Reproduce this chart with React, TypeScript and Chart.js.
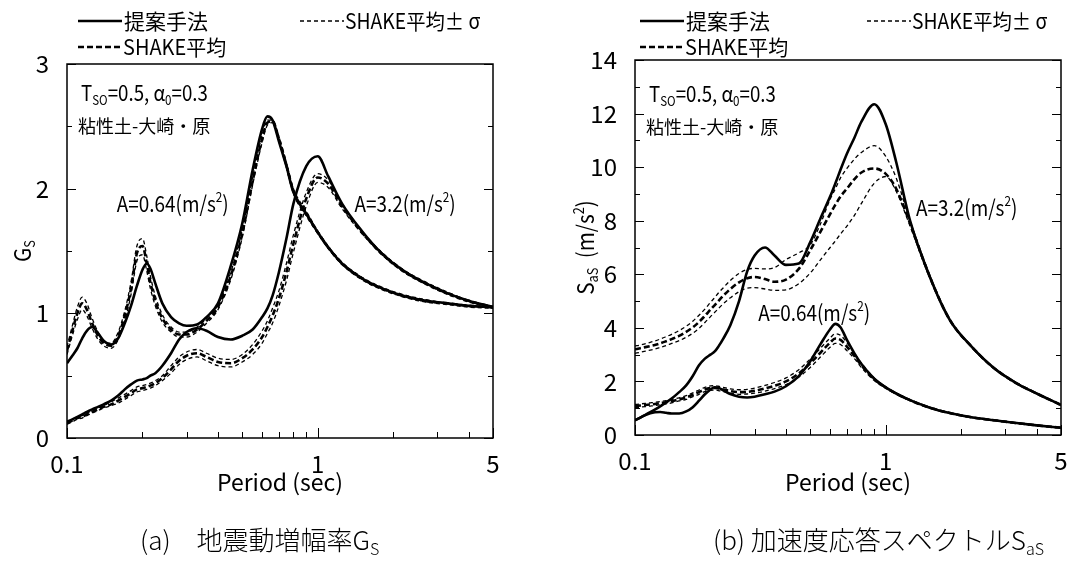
import { useEffect, useRef } from "react";
import { Chart, registerables } from "chart.js";

Chart.register(...registerables);

// ---------------- data ----------------
const periods = [0.1, 0.105, 0.11, 0.115, 0.12, 0.126, 0.133, 0.14, 0.15, 0.16, 0.17, 0.18, 0.19, 0.2, 0.208, 0.215, 0.225, 0.24, 0.26, 0.28, 0.3, 0.33, 0.36, 0.4, 0.45, 0.5, 0.55, 0.6, 0.63, 0.66, 0.7, 0.75, 0.8, 0.9, 1.0, 1.1, 1.25, 1.5, 1.8, 2.2, 2.7, 3.3, 4, 5];

const xTickLabels = [0.1, 1, 5];
const xMinorTicks = [0.2, 0.3, 0.4, 0.5, 0.6, 0.7, 0.8, 0.9, 2, 3, 4];

// (a) G_S
const gsProp064 = [0.60, 0.66, 0.72, 0.80, 0.86, 0.89, 0.84, 0.78, 0.75, 0.80, 0.92, 1.06, 1.22, 1.35, 1.40, 1.36, 1.24, 1.08, 0.97, 0.92, 0.90, 0.91, 0.97, 1.08, 1.38, 1.72, 2.15, 2.48, 2.58, 2.55, 2.38, 2.18, 1.97, 1.80, 1.65, 1.53, 1.40, 1.28, 1.20, 1.14, 1.10, 1.08, 1.06, 1.05];
const gsShake064 = [0.70, 0.86, 1.00, 1.08, 1.03, 0.92, 0.82, 0.76, 0.74, 0.82, 0.98, 1.20, 1.48, 1.54, 1.40, 1.25, 1.10, 0.96, 0.87, 0.83, 0.83, 0.87, 0.94, 1.05, 1.30, 1.64, 2.06, 2.40, 2.53, 2.54, 2.40, 2.19, 1.98, 1.80, 1.65, 1.53, 1.40, 1.28, 1.20, 1.14, 1.10, 1.08, 1.06, 1.05];
const gsShake064Hi = [0.73, 0.90, 1.05, 1.13, 1.08, 0.96, 0.85, 0.78, 0.76, 0.85, 1.02, 1.25, 1.54, 1.60, 1.46, 1.30, 1.14, 0.99, 0.89, 0.85, 0.85, 0.89, 0.96, 1.07, 1.33, 1.67, 2.09, 2.43, 2.55, 2.55, 2.42, 2.21, 2.00, 1.82, 1.66, 1.54, 1.41, 1.29, 1.21, 1.15, 1.11, 1.08, 1.06, 1.05];
const gsShake064Lo = [0.67, 0.82, 0.95, 1.03, 0.98, 0.88, 0.79, 0.74, 0.72, 0.79, 0.94, 1.15, 1.42, 1.47, 1.34, 1.20, 1.06, 0.93, 0.85, 0.81, 0.81, 0.85, 0.92, 1.03, 1.27, 1.61, 2.03, 2.37, 2.51, 2.53, 2.38, 2.17, 1.96, 1.78, 1.64, 1.52, 1.39, 1.27, 1.19, 1.13, 1.09, 1.07, 1.05, 1.04];
const gsProp32 = [0.13, 0.15, 0.17, 0.19, 0.21, 0.23, 0.25, 0.27, 0.30, 0.34, 0.39, 0.43, 0.46, 0.47, 0.48, 0.50, 0.52, 0.58, 0.68, 0.79, 0.85, 0.88, 0.86, 0.81, 0.79, 0.82, 0.87, 0.97, 1.04, 1.14, 1.33, 1.60, 1.88, 2.18, 2.26, 2.10, 1.88, 1.66, 1.48, 1.34, 1.24, 1.16, 1.10, 1.05];
const gsShake32 = [0.12, 0.14, 0.16, 0.17, 0.19, 0.21, 0.23, 0.25, 0.27, 0.30, 0.33, 0.36, 0.39, 0.40, 0.41, 0.42, 0.44, 0.48, 0.55, 0.62, 0.66, 0.68, 0.65, 0.61, 0.60, 0.64, 0.71, 0.81, 0.89, 0.98, 1.12, 1.33, 1.56, 1.92, 2.09, 2.04, 1.86, 1.65, 1.48, 1.34, 1.24, 1.16, 1.10, 1.05];
const gsShake32Hi = [0.13, 0.15, 0.17, 0.18, 0.20, 0.22, 0.24, 0.26, 0.29, 0.32, 0.35, 0.38, 0.41, 0.42, 0.43, 0.44, 0.46, 0.50, 0.58, 0.65, 0.69, 0.71, 0.68, 0.64, 0.63, 0.67, 0.75, 0.86, 0.94, 1.04, 1.18, 1.40, 1.63, 1.97, 2.12, 2.07, 1.88, 1.66, 1.49, 1.35, 1.25, 1.17, 1.10, 1.05];
const gsShake32Lo = [0.11, 0.13, 0.15, 0.16, 0.18, 0.20, 0.22, 0.24, 0.26, 0.28, 0.31, 0.34, 0.37, 0.38, 0.39, 0.40, 0.42, 0.46, 0.52, 0.59, 0.63, 0.65, 0.62, 0.58, 0.57, 0.61, 0.67, 0.76, 0.84, 0.92, 1.06, 1.26, 1.49, 1.86, 2.05, 2.01, 1.84, 1.64, 1.47, 1.33, 1.23, 1.15, 1.09, 1.04];

// (b) S_aS
const saProp064 = [0.55, 0.65, 0.74, 0.81, 0.85, 0.86, 0.83, 0.80, 0.80, 0.88, 1.04, 1.28, 1.52, 1.70, 1.78, 1.76, 1.67, 1.53, 1.43, 1.40, 1.43, 1.52, 1.62, 1.82, 2.20, 2.75, 3.40, 3.95, 4.15, 4.02, 3.55, 3.05, 2.65, 2.10, 1.78, 1.55, 1.30, 1.02, 0.82, 0.66, 0.55, 0.45, 0.36, 0.27];
const saShake064 = [1.08, 1.10, 1.12, 1.14, 1.16, 1.19, 1.22, 1.26, 1.33, 1.40, 1.50, 1.60, 1.70, 1.75, 1.76, 1.74, 1.70, 1.64, 1.60, 1.61, 1.65, 1.74, 1.84, 2.00, 2.30, 2.68, 3.08, 3.45, 3.60, 3.55, 3.30, 2.95, 2.60, 2.08, 1.77, 1.55, 1.30, 1.02, 0.82, 0.66, 0.55, 0.45, 0.36, 0.27];
const saShake064Hi = [1.14, 1.16, 1.18, 1.20, 1.22, 1.25, 1.28, 1.32, 1.39, 1.47, 1.57, 1.68, 1.78, 1.83, 1.84, 1.82, 1.78, 1.72, 1.69, 1.70, 1.75, 1.85, 1.96, 2.13, 2.44, 2.84, 3.25, 3.62, 3.78, 3.72, 3.45, 3.05, 2.68, 2.13, 1.80, 1.57, 1.32, 1.04, 0.83, 0.67, 0.56, 0.46, 0.37, 0.28];
const saShake064Lo = [1.02, 1.04, 1.06, 1.08, 1.10, 1.13, 1.16, 1.20, 1.27, 1.33, 1.43, 1.52, 1.62, 1.67, 1.68, 1.66, 1.62, 1.56, 1.52, 1.53, 1.56, 1.64, 1.73, 1.88, 2.16, 2.52, 2.92, 3.28, 3.42, 3.38, 3.15, 2.85, 2.52, 2.03, 1.74, 1.53, 1.28, 1.00, 0.81, 0.65, 0.54, 0.44, 0.35, 0.26];
const saProp32 = [0.55, 0.65, 0.75, 0.85, 0.95, 1.07, 1.22, 1.36, 1.60, 1.85, 2.20, 2.60, 2.85, 3.00, 3.12, 3.30, 3.60, 4.10, 5.00, 6.10, 6.70, 7.00, 6.70, 6.35, 6.40, 7.20, 8.10, 8.90, 9.40, 9.90, 10.50, 11.10, 11.70, 12.35, 11.60, 10.20, 8.00, 5.90, 4.30, 3.30, 2.50, 1.95, 1.55, 1.12];
const saShake32 = [3.20, 3.24, 3.28, 3.32, 3.36, 3.42, 3.50, 3.58, 3.70, 3.85, 4.02, 4.22, 4.45, 4.68, 4.85, 5.00, 5.20, 5.45, 5.70, 5.85, 5.90, 5.82, 5.72, 5.80, 6.20, 6.90, 7.60, 8.25, 8.60, 8.90, 9.20, 9.55, 9.80, 9.95, 9.75, 9.20, 7.90, 5.90, 4.30, 3.30, 2.50, 1.95, 1.55, 1.12];
const saShake32Hi = [3.32, 3.36, 3.41, 3.46, 3.51, 3.58, 3.67, 3.76, 3.90, 4.06, 4.25, 4.47, 4.70, 4.95, 5.13, 5.30, 5.50, 5.77, 6.03, 6.18, 6.22, 6.20, 6.25, 6.55, 6.80, 7.10, 7.90, 8.80, 9.20, 9.60, 9.95, 10.30, 10.55, 10.80, 10.40, 9.60, 8.00, 5.95, 4.33, 3.32, 2.52, 1.97, 1.56, 1.13];
const saShake32Lo = [3.05, 3.09, 3.13, 3.17, 3.21, 3.27, 3.34, 3.42, 3.52, 3.65, 3.80, 3.98, 4.20, 4.42, 4.58, 4.72, 4.90, 5.12, 5.35, 5.48, 5.50, 5.45, 5.40, 5.42, 5.65, 6.05, 6.55, 7.00, 7.25, 7.50, 7.80, 8.20, 8.65, 9.40, 9.65, 9.10, 7.80, 5.85, 4.28, 3.28, 2.48, 1.93, 1.54, 1.11];

// ---------------- styles ----------------
const W = 1091;
const H = 564;
const FONT = "'Noto Sans CJK JP', 'DejaVu Sans', sans-serif";
const FONT_JP = "'Noto Sans CJK JP', sans-serif";

type Kind = "prop" | "mean" | "sigma";
const STYLE: Record<Kind, { w: number; dash: number[] }> = {
  prop: { w: 2.6, dash: [] },
  mean: { w: 2.6, dash: [6, 3] },
  sigma: { w: 1.3, dash: [4, 3] },
};

type Seg = { t: string; s?: "sub" | "sup" };

function drawRich(
  ctx: CanvasRenderingContext2D,
  segs: Seg[],
  x: number,
  y: number,
  size: number,
  family: string,
  align: "left" | "center" = "left",
  weight = "normal",
  sx = 1
) {
  ctx.save();
  ctx.fillStyle = "#000";
  ctx.textBaseline = "middle";
  ctx.textAlign = "left";
  const widths = segs.map((sg) => {
    ctx.font = `${weight} ${sg.s ? size * 0.62 : size}px ${family}`;
    return ctx.measureText(sg.t).width;
  });
  const total = widths.reduce((a, b) => a + b, 0) * sx;
  const startX = align === "center" ? x - total / 2 : x;
  ctx.translate(startX, y);
  ctx.scale(sx, 1);
  let cx = 0;
  segs.forEach((sg, i) => {
    const sz = sg.s ? size * 0.62 : size;
    ctx.font = `${weight} ${sz}px ${family}`;
    const dy = sg.s === "sub" ? size * 0.34 : sg.s === "sup" ? -size * 0.3 : 0;
    ctx.fillText(sg.t, cx, dy);
    cx += widths[i];
  });
  ctx.restore();
}

function strokeSeg(ctx: CanvasRenderingContext2D, x1: number, y1: number, x2: number, y2: number, kind: Kind) {
  ctx.save();
  ctx.strokeStyle = "#000";
  ctx.lineWidth = STYLE[kind].w;
  ctx.setLineDash(STYLE[kind].dash);
  ctx.beginPath();
  ctx.moveTo(x1, y1);
  ctx.lineTo(x2, y2);
  ctx.stroke();
  ctx.restore();
}

type Spec = {
  left: number;
  width: number;
  area: { left: number; right: number; top: number; bottom: number };
  yMax: number;
  yStep: number;
  yMinor: number[];
  series: { values: number[]; kind: Kind }[];
  legendX: number;
  legendX2: number;
  yTitle: Seg[];
  yTitleX: number;
  caption: Seg[];
  captionX: number;
  notes: { segs: Seg[]; x: number; y: number }[];
  infoY: [number, number];
};

const specA: Spec = {
  left: 0,
  width: 545,
  area: { left: 67, right: 493, top: 64, bottom: 438 },
  yMax: 3,
  yStep: 1,
  yMinor: [0.5, 1.5, 2.5],
  series: [
    { values: gsShake064Hi, kind: "sigma" },
    { values: gsShake064Lo, kind: "sigma" },
    { values: gsShake32Hi, kind: "sigma" },
    { values: gsShake32Lo, kind: "sigma" },
    { values: gsShake064, kind: "mean" },
    { values: gsShake32, kind: "mean" },
    { values: gsProp064, kind: "prop" },
    { values: gsProp32, kind: "prop" },
  ],
  legendX: 78,
  legendX2: 300,
  yTitle: [{ t: "G" }, { t: "S", s: "sub" }],
  yTitleX: 22,
  caption: [{ t: "(a)　地震動増幅率G" }, { t: "S", s: "sub" }],
  captionX: 140,
  notes: [
    { segs: [{ t: "A=0.64(m/s" }, { t: "2", s: "sup" }, { t: ")" }], x: 0.158, y: 1.88 },
    { segs: [{ t: "A=3.2(m/s" }, { t: "2", s: "sup" }, { t: ")" }], x: 1.4, y: 1.88 },
  ],
  infoY: [2.77, 2.5],
};

const specB: Spec = {
  left: 545,
  width: 546,
  area: { left: 90, right: 516, top: 60, bottom: 435 },
  yMax: 14,
  yStep: 2,
  yMinor: [1, 3, 5, 7, 9, 11, 13],
  series: [
    { values: saShake064Hi, kind: "sigma" },
    { values: saShake064Lo, kind: "sigma" },
    { values: saShake32Hi, kind: "sigma" },
    { values: saShake32Lo, kind: "sigma" },
    { values: saShake064, kind: "mean" },
    { values: saShake32, kind: "mean" },
    { values: saProp064, kind: "prop" },
    { values: saProp32, kind: "prop" },
  ],
  legendX: 95,
  legendX2: 322,
  yTitle: [{ t: "S" }, { t: "aS", s: "sub" }, { t: "  (m/s" }, { t: "2", s: "sup" }, { t: ")" }],
  yTitleX: 40,
  caption: [{ t: "(b) 加速度応答スペクトル" }, { t: "S" }, { t: "aS", s: "sub" }],
  captionX: 168,
  notes: [
    { segs: [{ t: "A=3.2(m/s" }, { t: "2", s: "sup" }, { t: ")" }], x: 1.32, y: 8.48 },
    { segs: [{ t: "A=0.64(m/s" }, { t: "2", s: "sup" }, { t: ")" }], x: 0.31, y: 4.57 },
  ],
  infoY: [12.76, 11.5],
};

function buildConfig(spec: Spec): any {
  const decor = {
    id: "decor",
    afterDraw(chart: any) {
      const ctx: CanvasRenderingContext2D = chart.ctx;
      const { left, right, top, bottom } = chart.chartArea;
      const xs = chart.scales.x;
      const ys = chart.scales.y;
      ctx.save();
      // frame
      ctx.strokeStyle = "#000";
      ctx.lineWidth = 1.5;
      ctx.strokeRect(left, top, right - left, bottom - top);
      // inner ticks
      ctx.lineWidth = 1;
      ctx.beginPath();
      xMinorTicks.forEach((v) => {
        const px = Math.round(xs.getPixelForValue(v)) + 0.5;
        ctx.moveTo(px, bottom);
        ctx.lineTo(px, bottom - 6);
      });
      xTickLabels.forEach((v) => {
        const px = Math.round(xs.getPixelForValue(v)) + 0.5;
        ctx.moveTo(px, bottom);
        ctx.lineTo(px, bottom - 10);
      });
      const yMajor: number[] = [];
      for (let v = 0; v <= spec.yMax; v += spec.yStep) yMajor.push(v);
      yMajor.forEach((v) => {
        const py = Math.round(ys.getPixelForValue(v)) + 0.5;
        ctx.moveTo(left, py);
        ctx.lineTo(left + 9, py);
        ctx.moveTo(right, py);
        ctx.lineTo(right - 9, py);
      });
      spec.yMinor.forEach((v) => {
        const py = Math.round(ys.getPixelForValue(v)) + 0.5;
        ctx.moveTo(left, py);
        ctx.lineTo(left + 5, py);
        ctx.moveTo(right, py);
        ctx.lineTo(right - 5, py);
      });
      ctx.stroke();
      ctx.restore();

      // legend
      const lx = spec.legendX;
      const lx2 = spec.legendX2;
      strokeSeg(ctx, lx, 21, lx + 44, 21, "prop");
      drawRich(ctx, [{ t: "提案手法" }], lx + 46, 21, 21, FONT_JP);
      strokeSeg(ctx, lx2, 21, lx2 + 44, 21, "sigma");
      drawRich(ctx, [{ t: "SHAKE平均± σ" }], lx2 + 45, 21, 21, FONT, "left", "normal", 0.92);
      strokeSeg(ctx, lx, 47, lx + 44, 47, "mean");
      drawRich(ctx, [{ t: "SHAKE平均" }], lx + 45, 47, 21, FONT, "left", "normal", 0.95);

      // info texts
      const ix = left + 14;
      drawRich(
        ctx,
        [{ t: "T" }, { t: "SO", s: "sub" }, { t: "=0.5, α" }, { t: "0", s: "sub" }, { t: "=0.3" }],
        ix,
        ys.getPixelForValue(spec.infoY[0]),
        22,
        FONT,
        "left",
        "normal",
        0.85
      );
      drawRich(ctx, [{ t: "粘性土-大崎・原" }], left + 11, ys.getPixelForValue(spec.infoY[1]), 18, FONT_JP);

      // curve labels
      spec.notes.forEach((n) => {
        drawRich(ctx, n.segs, xs.getPixelForValue(n.x), ys.getPixelForValue(n.y), 22, FONT, "left", "normal", 0.86);
      });

      // y title
      ctx.save();
      ctx.translate(spec.yTitleX, (top + bottom) / 2);
      ctx.rotate(-Math.PI / 2);
      drawRich(ctx, spec.yTitle, 0, 0, 23, FONT, "center", "normal", 0.9);
      ctx.restore();

      // caption
      drawRich(ctx, spec.caption, spec.captionX, 540, 26, FONT_JP, "left", "300");
    },
  };

  return {
    type: "line",
    data: {
      datasets: spec.series.map((s) => ({
        data: periods.map((p, i) => ({ x: p, y: s.values[i] })),
        borderColor: "#000",
        borderWidth: STYLE[s.kind].w,
        borderDash: STYLE[s.kind].dash,
        pointRadius: 0,
        fill: false,
        cubicInterpolationMode: "monotone",
      })),
    },
    options: {
      responsive: false,
      animation: false,
      events: [],
      layout: {
        padding: { left: 0, top: spec.area.top, right: spec.width - spec.area.right, bottom: 0 },
      },
      plugins: { legend: { display: false }, tooltip: { enabled: false } },
      scales: {
        x: {
          type: "logarithmic",
          min: 0.1,
          max: 5,
          afterBuildTicks: (s: any) => {
            s.ticks = xTickLabels.map((v) => ({ value: v }));
          },
          afterFit: (s: any) => {
            s.height = H - spec.area.bottom;
          },
          ticks: {
            callback: (v: any) => String(v),
            font: { family: FONT, size: 24 },
            color: "#000",
            padding: 3,
            maxRotation: 0,
            autoSkip: false,
          },
          grid: { display: false },
          border: { display: false },
          title: {
            display: true,
            text: "Period (sec)",
            font: { family: FONT, size: 23 },
            color: "#000",
            padding: { top: 0, bottom: 68 },
          },
        },
        y: {
          type: "linear",
          min: 0,
          max: spec.yMax,
          afterFit: (s: any) => {
            s.width = spec.area.left;
          },
          ticks: {
            stepSize: spec.yStep,
            font: { family: FONT, size: 24 },
            color: "#000",
            padding: 10,
          },
          grid: { display: false },
          border: { display: false },
        },
      },
    },
    plugins: [decor],
  };
}

function Panel({ spec }: { spec: Spec }) {
  const ref = useRef<HTMLCanvasElement>(null);
  useEffect(() => {
    const chart = new Chart(ref.current as HTMLCanvasElement, buildConfig(spec));
    return () => chart.destroy();
  }, [spec]);
  return (
    <canvas
      ref={ref}
      width={spec.width}
      height={H}
      style={{ position: "absolute", left: spec.left, top: 0, width: spec.width, height: H }}
    />
  );
}

export default function App() {
  return (
    <div style={{ position: "fixed", left: 0, top: 0, width: W, height: H, background: "#fff", overflow: "hidden" }}>
      <Panel spec={specA} />
      <Panel spec={specB} />
    </div>
  );
}
